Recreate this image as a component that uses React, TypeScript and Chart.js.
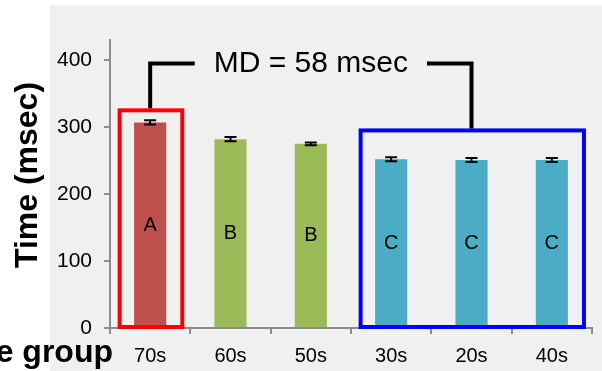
import React, { useEffect, useRef } from 'react';
import { Chart, registerables } from 'chart.js';

Chart.register(...registerables);

const categories = ['70s', '60s', '50s', '30s', '20s', '40s'];
const times = [307, 282, 275, 252, 251, 251];
const errors = [3, 3, 2, 3, 3, 3];
const groupLetters = ['A', 'B', 'B', 'C', 'C', 'C'];
const barColors = ['#C0504D', '#9BBB59', '#9BBB59', '#4BACC6', '#4BACC6', '#4BACC6'];
const yTickValues = [0, 100, 200, 300, 400];
const yMax = 430;
const yTitle = 'Time (msec)';
const xTitle = 'Age group';
const mdLabel = 'MD = 58 msec';
const boxFirst = [0, 3];
const boxLast = [0, 5];
const boxTop = [325, 295];
const boxColors = ['#FF0000', '#0000FF'];
const bracketFrom = 0;
const bracketTo = 4;
const bracketLevel = 395;

const FONT = '"Liberation Sans", Arial, sans-serif';

const overlay = {
  id: 'overlay',
  afterDatasetsDraw(chart: any) {
    const { ctx, scales } = chart;
    const x = scales.x;
    const y = scales.y;
    const cw = x.getPixelForValue(1) - x.getPixelForValue(0);
    ctx.save();
    // error bars
    ctx.strokeStyle = '#000';
    ctx.lineWidth = 2;
    times.forEach((v, i) => {
      const cx = x.getPixelForValue(i);
      const y1 = y.getPixelForValue(v + errors[i]);
      const y2 = y.getPixelForValue(v - errors[i]);
      ctx.beginPath();
      ctx.moveTo(cx, y1);
      ctx.lineTo(cx, y2);
      ctx.moveTo(cx - 6, y1);
      ctx.lineTo(cx + 6, y1);
      ctx.moveTo(cx - 6, y2);
      ctx.lineTo(cx + 6, y2);
      ctx.stroke();
    });
    // group letters
    ctx.fillStyle = '#000';
    ctx.font = `20px ${FONT}`;
    ctx.textAlign = 'center';
    ctx.textBaseline = 'middle';
    times.forEach((v, i) => {
      ctx.fillText(groupLetters[i], x.getPixelForValue(i), y.getPixelForValue(v / 2));
    });
    // boxes
    ctx.lineWidth = 4;
    boxFirst.forEach((f, k) => {
      const l = x.getPixelForValue(f) - 0.38 * cw;
      const r = x.getPixelForValue(boxLast[k]) + 0.4 * cw;
      const t = y.getPixelForValue(boxTop[k]);
      const b = y.getPixelForValue(0) - 1;
      ctx.strokeStyle = boxColors[k];
      ctx.strokeRect(l, t, r - l, b - t);
    });
    // bracket
    const bx1 = x.getPixelForValue(bracketFrom);
    const bx2 = x.getPixelForValue(bracketTo);
    const by = y.getPixelForValue(bracketLevel);
    const mid = (bx1 + bx2) / 2;
    ctx.font = `30px ${FONT}`;
    const tw = ctx.measureText(mdLabel).width;
    const gap = 19;
    ctx.strokeStyle = '#000';
    ctx.lineWidth = 4;
    ctx.lineCap = 'butt';
    ctx.beginPath();
    ctx.moveTo(bx1, y.getPixelForValue(boxTop[0]) - 2);
    ctx.lineTo(bx1, by);
    ctx.lineTo(mid - tw / 2 - gap, by);
    ctx.moveTo(mid + tw / 2 + gap, by);
    ctx.lineTo(bx2, by);
    ctx.lineTo(bx2, y.getPixelForValue(boxTop[1]) - 2);
    ctx.stroke();
    ctx.fillText(mdLabel, mid, by);
    ctx.restore();
  },
  afterDraw(chart: any) {
    const { ctx, chartArea } = chart;
    ctx.save();
    ctx.fillStyle = '#000';
    ctx.font = `bold 32px ${FONT}`;
    ctx.textAlign = 'right';
    ctx.textBaseline = 'alphabetic';
    ctx.fillText(xTitle, chartArea.left + 3, chartArea.bottom + 34);
    ctx.translate(28, 175);
    ctx.rotate(-Math.PI / 2);
    ctx.textAlign = 'center';
    ctx.textBaseline = 'middle';
    ctx.fillText(yTitle, 0, 0);
    ctx.restore();
  },
};

export default function App() {
  const ref = useRef<HTMLCanvasElement>(null);
  useEffect(() => {
    if (!ref.current) return;
    const chart = new Chart(ref.current, {
      type: 'bar',
      data: {
        labels: categories,
        datasets: [
          {
            data: times,
            backgroundColor: barColors,
            barPercentage: 0.4,
            categoryPercentage: 1.0,
          },
        ],
      },
      options: {
        responsive: false,
        animation: false,
        layout: { padding: { top: 40, right: 10, left: 0, bottom: 0 } },
        plugins: { legend: { display: false }, tooltip: { enabled: false } },
        scales: {
          x: {
            afterFit: (s: any) => {
              s.height = 43;
            },
            grid: {
              drawOnChartArea: false,
              drawTicks: true,
              tickLength: 6,
              color: '#8c8c8c',
              lineWidth: 2,
              offset: true,
            },
            border: { color: '#8c8c8c', width: 2 },
            ticks: { color: '#000', font: { family: FONT, size: 20 }, padding: 10 },
          },
          y: {
            min: 0,
            max: yMax,
            afterFit: (s: any) => {
              s.width = 110;
            },
            afterBuildTicks: (s: any) => {
              s.ticks = yTickValues.map((v) => ({ value: v }));
            },
            grid: {
              drawOnChartArea: false,
              drawTicks: true,
              tickLength: 6,
              color: '#8c8c8c',
              lineWidth: 2,
            },
            border: { color: '#8c8c8c', width: 2 },
            ticks: { color: '#000', font: { family: FONT, size: 21 }, padding: 12 },
          },
        },
      },
      plugins: [overlay],
    });
    return () => chart.destroy();
  }, []);
  return (
    <div style={{ position: 'fixed', left: 0, top: 0, width: 602, height: 371, background: '#fff' }}>
      <div style={{ position: 'absolute', left: 50, top: 5, right: 0, bottom: 0, background: '#f0f0f0' }} />
      <canvas ref={ref} width={602} height={371} style={{ position: 'absolute', left: 0, top: 0 }} />
    </div>
  );
}
